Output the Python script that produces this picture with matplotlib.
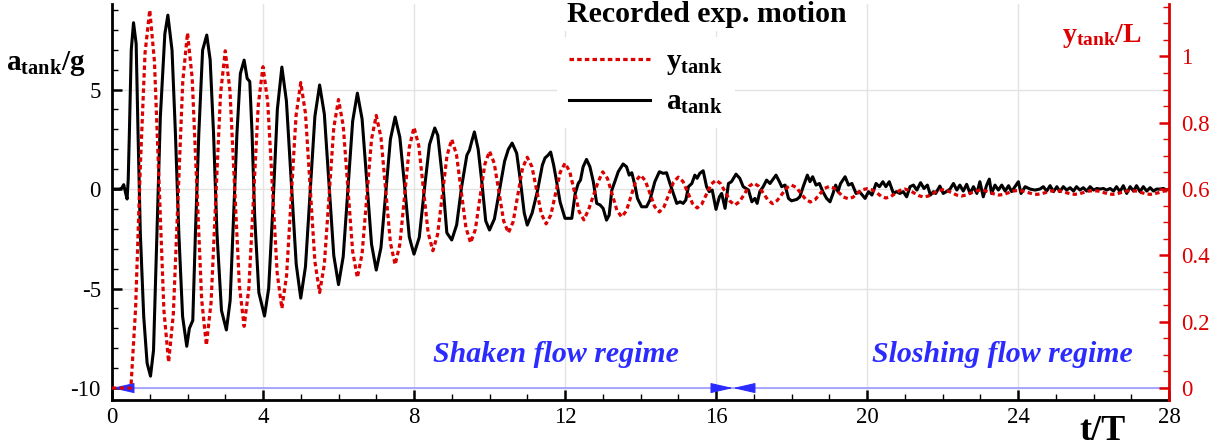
import numpy as np
import matplotlib
matplotlib.use('Agg')
import matplotlib.pyplot as plt
from matplotlib.ticker import MultipleLocator, FormatStrFormatter

plt.rcParams['font.family'] = 'serif'
plt.rcParams['font.serif'] = ['Liberation Serif', 'DejaVu Serif']
plt.rcParams['mathtext.fontset'] = 'custom'
plt.rcParams['mathtext.rm'] = 'Liberation Serif'
plt.rcParams['mathtext.bf'] = 'Liberation Serif:bold'
plt.rcParams['mathtext.it'] = 'Liberation Serif:italic'
plt.rcParams['axes.unicode_minus'] = False

# tank displacement y/L, read every 1/8 of t/T from 0 to 28
y_tank = [
    0.0, 0.0, 0.0, 0.0, 0.0, 0.24, 0.666, 1.01,
    1.14, 0.984, 0.609, 0.234, 0.078, 0.224, 0.575, 0.925,
    1.071, 0.933, 0.6, 0.267, 0.129, 0.259, 0.573, 0.887,
    1.017, 0.896, 0.602, 0.308, 0.186, 0.301, 0.578, 0.854,
    0.969, 0.862, 0.605, 0.347, 0.24, 0.34, 0.581, 0.821,
    0.921, 0.828, 0.605, 0.381, 0.288, 0.373, 0.579, 0.785,
    0.87, 0.791, 0.602, 0.412, 0.333, 0.405, 0.578, 0.75,
    0.822, 0.756, 0.597, 0.438, 0.372, 0.433, 0.579, 0.725,
    0.786, 0.732, 0.6, 0.468, 0.414, 0.463, 0.582, 0.701,
    0.75, 0.704, 0.594, 0.484, 0.438, 0.478, 0.576, 0.674,
    0.714, 0.678, 0.591, 0.504, 0.468, 0.501, 0.582, 0.663,
    0.696, 0.667, 0.596, 0.525, 0.495, 0.522, 0.587, 0.651,
    0.678, 0.653, 0.593, 0.532, 0.507, 0.538, 0.58, 0.621,
    0.652, 0.632, 0.584, 0.536, 0.516, 0.534, 0.579, 0.624,
    0.642, 0.626, 0.587, 0.547, 0.531, 0.547, 0.584, 0.621,
    0.636, 0.623, 0.59, 0.557, 0.543, 0.555, 0.585, 0.615,
    0.627, 0.616, 0.59, 0.563, 0.552, 0.562, 0.585, 0.608,
    0.618, 0.609, 0.588, 0.567, 0.556, 0.566, 0.585, 0.604,
    0.612, 0.605, 0.587, 0.569, 0.561, 0.568, 0.585, 0.602,
    0.608, 0.603, 0.59, 0.576, 0.571, 0.575, 0.588, 0.598,
    0.601, 0.598, 0.59, 0.578, 0.573, 0.577, 0.587, 0.596,
    0.6, 0.596, 0.588, 0.58, 0.576, 0.579, 0.587, 0.595,
    0.598, 0.595, 0.589, 0.582, 0.579, 0.582, 0.588, 0.594,
    0.597, 0.595, 0.59, 0.585, 0.582, 0.584, 0.589, 0.594,
    0.596, 0.594, 0.59, 0.586, 0.584, 0.586, 0.59, 0.594,
    0.595, 0.594, 0.59, 0.586, 0.584, 0.586, 0.59, 0.594,
    0.595, 0.594, 0.59, 0.586, 0.584, 0.586, 0.59, 0.594,
    0.595, 0.594, 0.59, 0.586, 0.584, 0.586, 0.59, 0.594,
    0.595,
]
t_y = np.arange(len(y_tank)) * 0.125

# tank acceleration a/g
t_a = [
    0.0, 0.2, 0.26, 0.31, 0.36, 0.40, 0.43, 0.46, 0.51, 0.57, 0.64, 0.69, 0.75, 0.84, 0.93,
    1.02, 1.10, 1.19, 1.28, 1.40, 1.48, 1.59, 1.68, 1.77, 1.87,
    1.98, 2.05, 2.14, 2.21, 2.30, 2.40, 2.51, 2.60, 2.69, 2.78, 2.90,
    3.03, 3.13, 3.22, 3.31, 3.40, 3.50, 3.58, 3.65, 3.71, 3.78, 3.89,
    4.04, 4.15, 4.26, 4.38, 4.5, 4.62, 4.75, 4.88,
    5.0, 5.125, 5.25, 5.375, 5.5, 5.625, 5.75, 5.875,
    6.0, 6.125, 6.25, 6.375, 6.5, 6.625, 6.75, 6.875,
    7.0, 7.125, 7.25, 7.375, 7.5, 7.625, 7.75, 7.875, 7.93,
    8.0, 8.14, 8.27, 8.41, 8.55, 8.63, 8.75, 8.87,
    9.0, 9.13, 9.26, 9.4, 9.47, 9.53, 9.6, 9.7, 9.8, 9.9,
    10.0, 10.13, 10.27, 10.4, 10.5, 10.6, 10.72, 10.82, 10.92,
    11.0, 11.13, 11.27, 11.4, 11.47, 11.55, 11.62, 11.7, 11.78, 11.87,
    12.0, 12.18, 12.27, 12.35, 12.41, 12.48, 12.57, 12.66, 12.75, 12.84, 12.93,
    13.01, 13.1, 13.17, 13.24, 13.32, 13.41, 13.54, 13.63, 13.7, 13.77, 13.86, 13.92,
    14.03, 14.16, 14.25, 14.38, 14.5, 14.6, 14.69, 14.78, 14.87, 14.96,
    15.05, 15.13, 15.2, 15.27, 15.36, 15.44, 15.5, 15.57, 15.66, 15.75, 15.82, 15.9,
    16.0, 16.09, 16.15, 16.24, 16.33, 16.41, 16.53, 16.63, 16.72, 16.86, 16.95,
    17.03, 17.09, 17.16, 17.25, 17.34, 17.43, 17.59, 17.68, 17.74, 17.83, 17.92,
    18.0, 18.14, 18.22, 18.31, 18.42, 18.49, 18.56, 18.65, 18.74, 18.83, 18.93,
    19.02, 19.1, 19.17, 19.23, 19.3, 19.42, 19.51, 19.6, 19.71, 19.8, 19.95,
    20.04, 20.13, 20.24, 20.33, 20.42, 20.5, 20.59, 20.7, 20.78, 20.87, 20.96,
    21.05, 21.14, 21.23, 21.32, 21.42, 21.51, 21.6, 21.68, 21.76, 21.82, 21.93,
    22.02, 22.1, 22.2, 22.29, 22.38, 22.46, 22.55, 22.64, 22.73, 22.82, 22.91, 22.99,
    23.08, 23.17, 23.24, 23.3, 23.39, 23.48, 23.57, 23.66, 23.75, 23.83, 23.92,
    24.01, 24.08, 24.19, 24.32, 24.45, 24.58, 24.67, 24.76, 24.85, 24.94,
    25.03, 25.11, 25.2, 25.29, 25.38, 25.47, 25.55, 25.64, 25.73, 25.82, 25.91,
    26.0, 26.09, 26.17, 26.26, 26.35, 26.44, 26.53, 26.61, 26.7, 26.79, 26.88, 26.97,
    27.06, 27.14, 27.23, 27.32, 27.41, 27.5, 27.59, 27.67, 27.76, 27.85, 27.94, 28.0,
]
a_tank = [
    0.0, 0.0, 0.05, 0.22, -0.2, -0.5, 0.5, 2.8, 6.98, 8.36, 7.3, 2.8, -2.2, -6.4, -8.75,
    -9.4, -8.1, -2.2, 3.6, 7.8, 8.74, 6.98, 2.8, -2.2, -6.4,
    -7.9, -7.0, -6.6, -2.2, 2.8, 6.98, 7.74, 6.5, 2.8, -2.2, -6.1,
    -7.08, -5.6, -1.4, 2.8, 5.8, 6.48, 5.56, 5.4, 2.8, -1.4, -5.2,
    -6.38, -5.0, -1.0, 4.0, 6.13, 4.43, 0.33, -3.78,
    -5.48, -3.9, -0.13, 3.66, 5.23, 3.77, 0.22, -3.34,
    -4.8, -3.39, 0.01, 3.41, 4.82, 3.52, 0.38, -2.77,
    -4.07, -2.94, -0.23, 2.5, 3.62, 2.6, 0.18, -2.4, -2.8,
    -3.27, -2.43, -0.1, 2.23, 3.07, 2.7, 0.6, -2.2,
    -2.56, -1.8, 0.1, 1.7, 1.96, 2.4, 2.87, 2.0, 0.3, -1.6,
    -2.06, -1.5, 0.0, 1.4, 2.0, 2.31, 1.8, 0.4, -1.2,
    -1.81, -1.2, -0.1, 1.2, 1.56, 1.7, 1.86, 1.2, 0.35, -0.65,
    -1.47, -1.47, -0.22, 0.28, 0.45, 1.12, 1.49, 1.12, 0.37, -0.72, -0.8,
    -0.97, -1.56, -1.31, -0.05, 0.37, 0.87, 1.26, 1.12, 0.7, 0.82, 0.12, -0.47,
    -0.89, -0.89, -0.55, 0.37, 0.87, 0.79, 0.82, 0.28, -0.22, -0.72,
    -0.64, -0.72, -0.55, 0.12, 0.28, 0.7, 0.54, 0.79, 0.92, 0.12, -0.13, -0.05,
    -1.02, -0.39, -0.22, -0.97, 0.28, 0.37, 0.75, 0.54, 0.12, -0.05, -0.64,
    -0.47, -0.72, -0.13, 0.12, 0.45, 0.28, 0.7, 0.37, 0.12, 0.2, -0.47,
    -0.59, -0.52, -0.39, 0.12, 0.7, 0.37, 0.62, 0.2, 0.28, -0.13, -0.47,
    -0.64, -0.22, 0.2, -0.13, 0.28, 0.62, 0.2, 0.28, -0.22, -0.13, -0.47,
    -0.13, -0.3, 0.28, 0.12, 0.37, 0.12, 0.37, -0.22, -0.13, -0.22, -0.13,
    -0.39, 0.12, 0.2, -0.05, 0.32, 0.03, 0.2, -0.3, -0.13, -0.22, 0.15,
    -0.22, -0.13, 0.0, 0.28, -0.05, 0.2, -0.1, 0.24, -0.22, 0.12, -0.22, 0.37,
    -0.39, 0.2, 0.5, -0.22, 0.2, -0.05, 0.2, -0.1, 0.17, -0.13, 0.12,
    0.37, -0.22, 0.12, 0.0, -0.05, 0.0, 0.12, -0.1, 0.17, -0.13,
    0.12, -0.13, 0.12, -0.05, 0.07, -0.1, 0.12, -0.05, 0.07, -0.1, 0.12,
    -0.05, 0.03, 0.0, 0.03, -0.05, 0.03, -0.1, 0.12, -0.13, 0.17, -0.22, 0.12,
    -0.1, 0.17, -0.13, 0.12, -0.1, 0.07, -0.1, 0.0, 0.0, 0.03, -0.05, 0.0,
]

regime_edges = [0, 16.45, 28]
regime_names = ['Shaken flow regime', 'Sloshing flow regime']
regime_text_x = [11.76, 23.58]

red = '#dd0000'
blue = '#2b2bff'

fig = plt.figure(figsize=(12.25, 4.46), dpi=100)
ax = fig.add_axes([112/1225, 46/446, 1057/1225, 396/446])
ax2 = ax.twinx()

la, = ax.plot(t_a, a_tank, color='k', lw=2.2, zorder=3)
ly, = ax2.plot(t_y, y_tank, color=red, lw=2.3, ls=(0, (1.4, 1.0)), zorder=3)

ylo, yhi = -10.6, 9.3
ax.set_xlim(0, 28)
ax.set_ylim(ylo, yhi)
ax2.set_ylim(0.6 + 0.06*ylo, 0.6 + 0.06*yhi)

ax.xaxis.set_major_locator(MultipleLocator(4))
ax.xaxis.set_minor_locator(MultipleLocator(1))
ax.yaxis.set_major_locator(MultipleLocator(5))
ax.yaxis.set_minor_locator(MultipleLocator(1))
ax2.yaxis.set_major_locator(MultipleLocator(0.2))
ax2.yaxis.set_minor_locator(MultipleLocator(0.05))
ax2.yaxis.set_major_formatter(FormatStrFormatter('%g'))

ax.grid(True, which='major', color='#e3e3e3', lw=1)
ax.set_axisbelow(True)

ax.tick_params(which='both', direction='in', top=False, right=False, labelsize=16.5)
ax.tick_params(which='major', length=7, width=1.8)
ax.tick_params(which='minor', length=4, width=1)
ax.tick_params(axis='y', pad=8)
ax.tick_params(axis='x', pad=5)
ax2.tick_params(which='both', direction='in', colors=red, labelsize=16.5, pad=9)
ax2.tick_params(which='major', length=7, width=1.8)
ax2.tick_params(which='minor', length=4, width=1)

for s in ['left', 'bottom']:
    ax.spines[s].set_linewidth(2)
ax.spines['top'].set_visible(False)
ax.spines['right'].set_visible(False)
for s in ['left', 'bottom', 'top']:
    ax2.spines[s].set_visible(False)
ax2.spines['right'].set_color(red)
ax2.spines['right'].set_linewidth(2)

# regime arrows along a/g = -10
ax.hlines(-10, regime_edges[0], regime_edges[-1], color='#9a9aff', lw=1.2, zorder=4)
hs = '-|>,head_length=1.4,head_width=0.32'
ax.annotate('', xy=(regime_edges[0], -10), xytext=(regime_edges[0] + 0.55, -10),
            arrowprops=dict(arrowstyle=hs, color=blue, lw=0.8, shrinkA=0, shrinkB=0), zorder=5)
ax.annotate('', xy=(regime_edges[1], -10), xytext=(regime_edges[1] - 0.55, -10),
            arrowprops=dict(arrowstyle=hs, color=blue, lw=0.8, shrinkA=0, shrinkB=0), zorder=5)
ax.annotate('', xy=(regime_edges[1], -10), xytext=(regime_edges[1] + 0.5, -10),
            arrowprops=dict(arrowstyle=hs, color=blue, lw=0.8, shrinkA=0, shrinkB=0), zorder=5)
for name, xt in zip(regime_names, regime_text_x):
    ax.text(xt, -8.3, name, color=blue, fontsize=21.5, fontweight='bold', fontstyle='italic',
            ha='center', va='center')

fig.text(46/1225, 1 - 64/446, r'$\mathbf{a}_{\mathbf{tank}}\mathbf{/g}$', fontsize=21,
         ha='center', va='center')
fig.text(1102/1225, 1 - 36/446, r'$\mathbf{y}_{\mathbf{tank}}\mathbf{/L}$', fontsize=20,
         ha='center', va='center', color=red)
fig.text(1102/1225, 1 - 431/446, 't/T', fontsize=26, fontweight='bold', ha='center', va='center')

# legend title drawn as its own text, entries in a white box below it
fig.text(567/1225, 1 - 15/446, 'Recorded exp. motion', fontsize=21.5, fontweight='bold',
         ha='left', va='center', zorder=11,
         bbox=dict(facecolor='white', edgecolor='none', pad=2))
leg = ax2.legend([ly, la], [r'$\mathbf{y}_{\mathbf{tank}}$', r'$\mathbf{a}_{\mathbf{tank}}$'],
                 loc='upper left', bbox_to_anchor=(557/1225, 1 - 37/446),
                 bbox_transform=fig.transFigure,
                 prop={'size': 21}, frameon=True, facecolor='white', edgecolor='none',
                 framealpha=1, fancybox=False, handlelength=2.8, handletextpad=0.55,
                 labelspacing=0.42, borderpad=0.4, borderaxespad=0)
leg.set_zorder(10)

fig.savefig('out.png', dpi=100)
